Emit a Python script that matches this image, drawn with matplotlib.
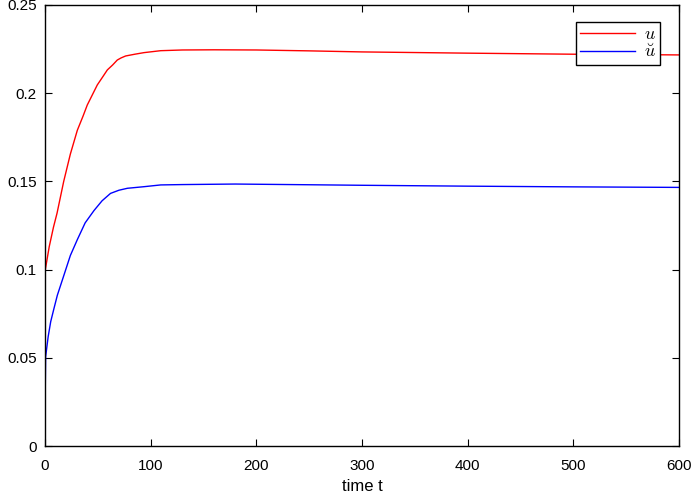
import matplotlib
matplotlib.use("Agg")
import matplotlib.pyplot as plt
import numpy as np

t_u = [0, 0.3, 4, 8, 11.4, 17.7, 24, 30.6, 36, 40, 46, 49.5, 55, 59, 64, 68.4, 72, 76.3, 85, 93.7, 109.5, 130, 160, 200, 250, 300, 400, 500, 600]
u = [0, 0.1, 0.113, 0.124, 0.132, 0.150, 0.1655, 0.179, 0.187, 0.1933, 0.2005, 0.2047, 0.2096, 0.2132, 0.2160, 0.2188, 0.2200, 0.2211, 0.2221, 0.2230, 0.2241, 0.2245, 0.2246, 0.2245, 0.2240, 0.2234, 0.2227, 0.2221, 0.2217]
t_ub = [0, 0.3, 0.6, 3, 5.4, 8.5, 11.7, 18, 24, 30.6, 38, 46.4, 54, 62, 70, 78, 93.7, 109.5, 130, 180, 250, 300, 400, 500, 600]
ub = [0, 0.035, 0.0506, 0.062, 0.0705, 0.078, 0.0855, 0.097, 0.108, 0.117, 0.1265, 0.1335, 0.139, 0.1432, 0.1450, 0.1461, 0.1470, 0.1480, 0.1482, 0.1485, 0.1481, 0.1478, 0.1473, 0.1469, 0.1466]

plt.rcParams['font.family'] = ['Liberation Sans', 'DejaVu Sans']
plt.rcParams['mathtext.fontset'] = 'cm'

fig = plt.figure(figsize=(6.95, 4.98), dpi=100)
ax = fig.add_axes([45/695, 52/498, 634/695, 441/498])
ax.plot(t_u, u, color='#ff0000', lw=1.0, label=r'$u$')
ax.plot(t_ub, ub, color='#0000ff', lw=1.0, label=r'$\breve{u}$')
ax.set_xlim(0, 600)
ax.set_ylim(0, 0.25)
ax.set_xticks([0, 100, 200, 300, 400, 500, 600])
ax.set_yticks([0, 0.05, 0.1, 0.15, 0.2, 0.25])
ax.set_yticklabels(['0', '0.05', '0.1', '0.15', '0.2', '0.25'])
ax.tick_params(direction='in', top=True, right=True, labelsize=11, length=5, width=0.8)
ax.tick_params(axis='x', pad=9)
ax.tick_params(axis='y', pad=6)
for s in ax.spines.values():
    s.set_linewidth(1.0)
ax.set_xlabel('time t', fontsize=12, labelpad=5)
leg = ax.legend(loc='upper right', bbox_to_anchor=(0.97, 0.962), borderaxespad=0, fontsize=13,
                frameon=True, fancybox=False, edgecolor='black', framealpha=1,
                handlelength=3.0, borderpad=0.25, labelspacing=0.02, handletextpad=0.5)
leg.get_frame().set_linewidth(1.0)
fig.savefig('out.png', dpi=100)
